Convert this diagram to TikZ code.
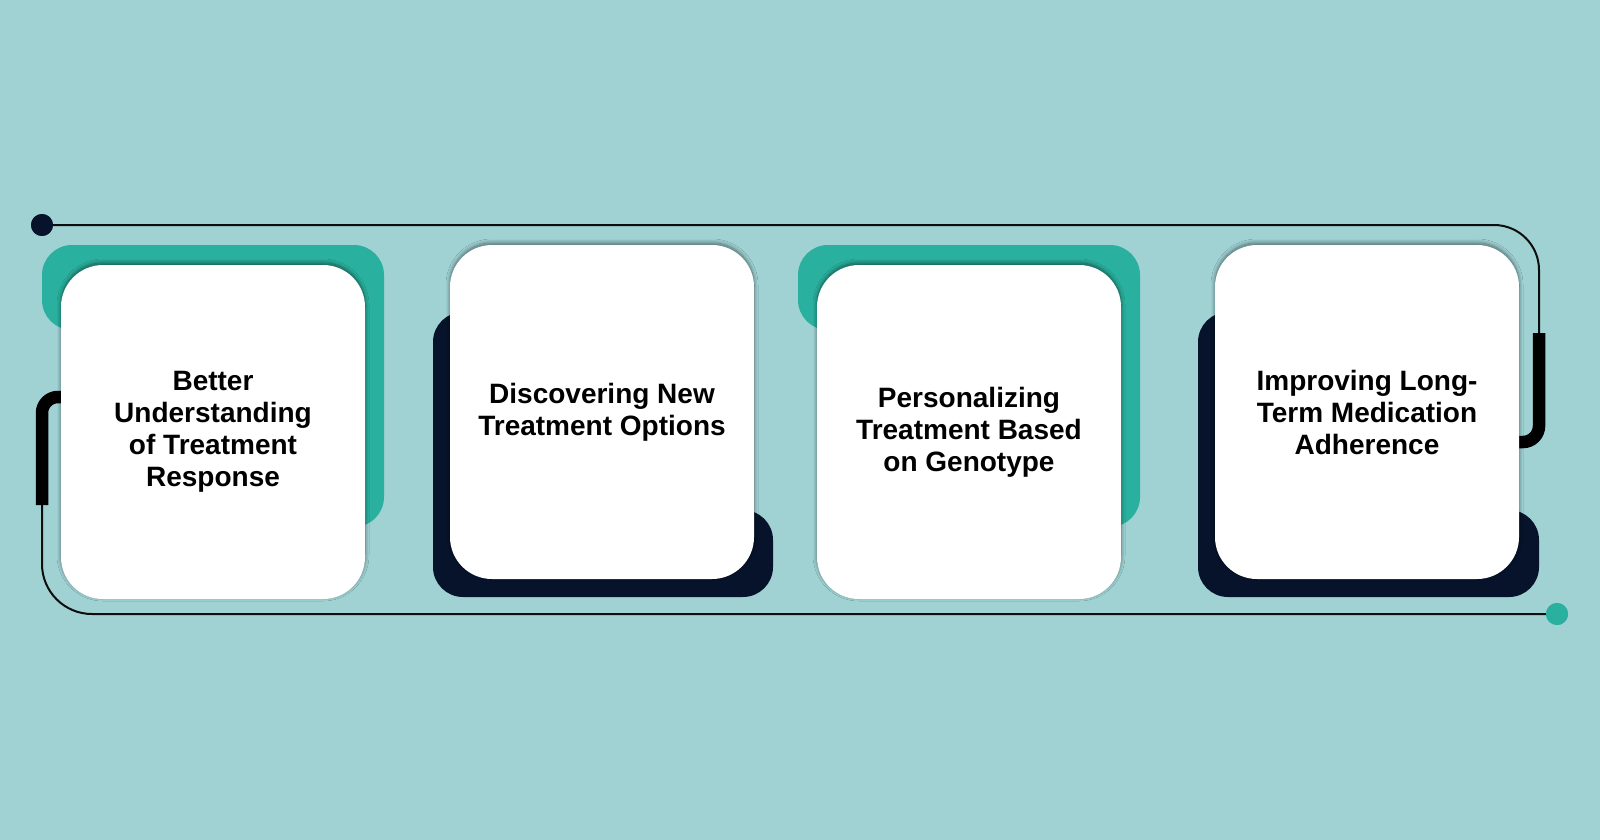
\documentclass[tikz,border=0pt]{standalone}
\usepackage{fontspec}
\setmainfont{Liberation Sans}
\usetikzlibrary{shadows.blur}
\definecolor{bg}{HTML}{A0D2D4}
\definecolor{tealc}{HTML}{2AB09E}
\definecolor{navy}{HTML}{06132A}
\definecolor{linec}{HTML}{0D0D0D}
\begin{document}
\begin{tikzpicture}[x=1pt,y=-1pt,
  card/.style={fill=white, rounded corners=42pt, minimum width=304pt, minimum height=334pt,
    inner sep=0pt, align=center, text=black, font=\bfseries\fontsize{28}{32}\selectfont,
    blur shadow={shadow xshift=0pt, shadow yshift=2pt, shadow blur radius=4pt,
      shadow blur steps=12, shadow opacity=50}},
  backshape/.style={rounded corners=30pt},
  thinline/.style={draw=linec, line width=2pt},
  thickline/.style={draw=black, line width=12.5pt},
  dotnode/.style={circle, inner sep=0pt, minimum size=22pt}]
\useasboundingbox (0,0) rectangle (1600,840);
\fill[bg] (0,0) rectangle (1600,840);

% dots and line anchors
\node[dotnode, fill=navy] (dA) at (42,225) {};
\node[dotnode, fill=tealc] (dB) at (1557,614) {};
\coordinate (rA) at (1539,333);
\coordinate (rB) at (1505,442);
\coordinate (lA) at (80,397);
\coordinate (lB) at (42,505);

% connectors
\draw[thinline, rounded corners=45pt] (dA.center) -- (1539,225) -- (rA);
\draw[thickline, rounded corners=16pt] (rA) -- (1539,442) -- (rB);
\draw[thickline, rounded corners=16pt] (lA) -- (42,397) -- (lB);
\draw[thinline, rounded corners=50pt] (lB) -- (42,614) -- (dB.center);
\node[dotnode, fill=navy] at (dA) {};
\node[dotnode, fill=tealc] at (dB) {};

% back shapes
\fill[tealc, backshape] (150,330) -- (42,330) -- (42,245) -- (384,245) -- (384,527) -- (200,527) -- cycle;
\fill[navy, backshape] (433,312) -- (600,312) -- (600,510) -- (773,510) -- (773,597) -- (433,597) -- cycle;
\fill[tealc, backshape] (906,330) -- (798,330) -- (798,245) -- (1140,245) -- (1140,527) -- (956,527) -- cycle;
\fill[navy, backshape] (1198,312) -- (1365,312) -- (1365,510) -- (1539,510) -- (1539,597) -- (1198,597) -- cycle;

% cards
\node[card] (c1) at (213,432) {Better\\Understanding\\of Treatment\\Response};
\node[card] (c2) at (602,412) {Discovering New\\Treatment Options};
\node[card] (c3) at (969,432) {Personalizing\\Treatment Based\\on Genotype};
\node[card] (c4) at (1367,412) {Improving Long-\\Term Medication\\Adherence};
\end{tikzpicture}
\end{document}
